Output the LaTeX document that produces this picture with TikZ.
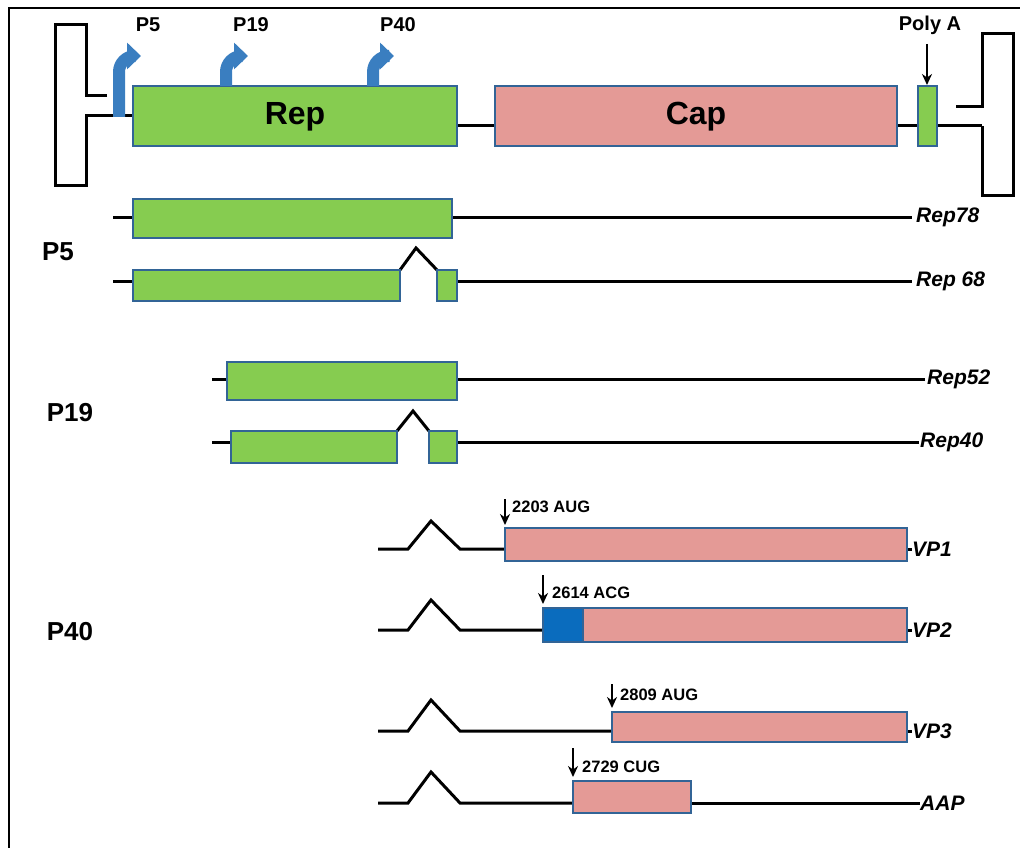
\documentclass[tikz,border=0pt]{standalone}
\usepackage{fontspec}
\setmainfont{Liberation Sans}
\usetikzlibrary{arrows.meta}
\definecolor{gfill}{RGB}{134,204,80}
\definecolor{pfill}{RGB}{228,154,150}
\definecolor{bedge}{RGB}{50,100,150}
\definecolor{vpblue}{RGB}{10,108,190}
\definecolor{promblue}{RGB}{58,126,192}
\tikzset{
  gbox/.style={draw=bedge, line width=2.2, fill=gfill},
  pbox/.style={draw=bedge, line width=2.2, fill=pfill},
  rna/.style={line width=3, black, line join=miter},
  prom/.style={line width=12, promblue, rounded corners=16, -{Triangle[length=14pt,width=26pt]}},
  site/.style={line width=2, black, -{Stealth[length=11pt,width=10pt]}},
  toplab/.style={font=\fontsize{20}{23}\selectfont\bfseries},
  biglab/.style={font=\fontsize{26}{30}\selectfont\bfseries},
  boxlab/.style={font=\fontsize{32}{36}\selectfont\bfseries},
  rowlab/.style={font=\fontsize{21}{24}\selectfont\bfseries\itshape, anchor=west, inner sep=0pt},
  sitelab/.style={font=\fontsize{16.5}{19}\selectfont\bfseries, anchor=west, inner sep=0pt}
}
\begin{document}
\begin{tikzpicture}[x=1pt,y=-1pt]
\useasboundingbox (0,0) rectangle (1020,848);
% frame
\draw[line width=2] (9,848) -- (9,8) -- (1020,8);

% ---------- genome map ----------
\draw[rna] (107,96) -- (86,96) -- (86,25) -- (55,25) -- (55,185) -- (86,185) -- (86,116) -- (133,116);
\draw[rna] (457,126) -- (495,126);
\draw[rna] (897,126) -- (918,126);
\draw[rna] (937,126) -- (982,126);
\draw[rna] (956,107) -- (982,107) -- (982,34) -- (1013,34) -- (1013,195) -- (982,195) -- (982,126);

\draw[gbox] (133,86) rectangle (457,146);
\node[boxlab] (replab) at (295,117) {Rep};
\draw[pbox] (495,86) rectangle (897,146);
\node[boxlab] (caplab) at (696,117) {Cap};
\draw[gbox] (918,86) rectangle (937,146);

\coordinate (pa1) at (927,44);
\coordinate (pa2) at (927,85);
\draw[site] (pa1) -- (pa2);
\node[toplab] (polya) at (930,25) {Poly A};

\draw[prom] (119,117) |- (141,56);
\draw[prom] (226,86) |- (248,56);
\draw[prom] (373,86) |- (394,56);
\node[toplab] (tp5) at (148,25) {P5};
\node[toplab] (tp19) at (251,25) {P19};
\node[toplab] (tp40) at (398,25) {P40};

% ---------- P5 transcripts ----------
\node[biglab] (lp5) at (58,252) {P5};
\draw[rna] (113,217) -- (912,217);
\draw[gbox] (133,199) rectangle (452,238);
\node[rowlab] (r78) at (916,217) {Rep78};

\draw[rna] (113,281) -- (133,281);
\draw[rna] (457,281) -- (912,281);
\draw[rna] (400,270) -- (416,248) -- (437,270);
\draw[gbox] (133,270) rectangle (400,301);
\draw[gbox] (437,270) rectangle (457,301);
\node[rowlab] (r68) at (916,281) {Rep 68};

% ---------- P19 transcripts ----------
\node[biglab] (lp19) at (70,413) {P19};
\draw[rna] (212,379) -- (925,379);
\draw[gbox] (227,362) rectangle (457,400);
\node[rowlab] (r52) at (927,379) {Rep52};

\draw[rna] (212,442) -- (231,442);
\draw[rna] (457,442) -- (919,442);
\draw[rna] (397,431) -- (413,411) -- (429,431);
\draw[gbox] (231,431) rectangle (397,463);
\draw[gbox] (429,431) rectangle (457,463);
\node[rowlab] (r40) at (920,442) {Rep40};

% ---------- P40 transcripts ----------
\node[biglab] (lp40) at (70,632) {P40};

\draw[rna] (378,549) -- (408,549) -- (431,521) -- (460,549) -- (505,549);
\draw[rna] (907,549) -- (912,549);
\draw[pbox] (505,528) rectangle (907,561);
\node[rowlab] (vp1) at (912,549) {VP1};
\draw[site] (505,499) -- (505,525);
\node[sitelab] (s1) at (512,507) {2203 AUG};

\draw[rna] (378,630) -- (408,630) -- (431,600) -- (460,630) -- (543,630);
\draw[rna] (907,630) -- (912,630);
\fill[vpblue] (543,608) rectangle (583,642);
\fill[pfill] (583,608) rectangle (907,642);
\draw[bedge, line width=2.2] (543,608) rectangle (907,642) (583,608) -- (583,642);
\node[rowlab] (vp2) at (912,630) {VP2};
\draw[site] (543,575) -- (543,604);
\node[sitelab] (s2) at (552,593) {2614 ACG};

\draw[rna] (378,731) -- (408,731) -- (431,700) -- (460,731) -- (612,731);
\draw[rna] (907,731) -- (912,731);
\draw[pbox] (612,712) rectangle (907,742);
\node[rowlab] (vp3) at (912,731) {VP3};
\draw[site] (612,684) -- (612,708);
\node[sitelab] (s3) at (620,695) {2809 AUG};

\draw[rna] (378,803) -- (408,803) -- (431,772) -- (460,803) -- (573,803);
\draw[rna] (691,803) -- (920,803);
\draw[pbox] (573,781) rectangle (691,813);
\node[rowlab] (aap) at (920,803) {AAP};
\draw[site] (573,748) -- (573,777);
\node[sitelab] (s4) at (582,767) {2729 CUG};
\end{tikzpicture}
\end{document}
